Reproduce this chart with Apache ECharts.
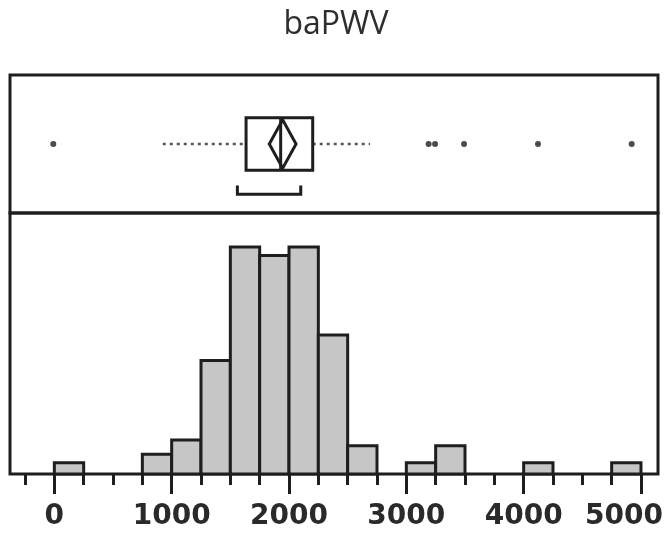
<!DOCTYPE html>
<html>
<head>
<meta charset="utf-8">
<script src="https://cdn.jsdelivr.net/npm/echarts@6/dist/echarts.min.js"></script>
<style>
  html, body { margin: 0; padding: 0; background: #fff; }
  #chart { width: 672px; height: 537px; }
</style>
</head>
<body>
<div id="chart"></div>
<script>
// histogram bins (start, end) and heights
var binStart = [0, 750, 1000, 1250, 1500, 1750, 2000, 2250, 2500, 3000, 3250, 4000, 4750];
var binEnd   = [250, 1000, 1250, 1500, 1750, 2000, 2250, 2500, 2750, 3250, 3500, 4250, 5000];
var binCount = [2, 3.5, 6, 20, 40, 38.5, 40, 24.5, 5, 2, 5, 2, 2];

// box plot: whisker low, q1, median, q3, whisker high
var boxStats = [924, 1634, 1929, 2202, 2690];
// mean diamond: lower, mean, upper
var meanDiamond = [1832, 1946, 2060];
// shortest half bracket
var shortestHalf = [1560, 2100];
var outliers = [-9, 3190, 3245, 3492, 4122, 4921];

var majorTicks = [0, 1000, 2000, 3000, 4000, 5000];
var minorTicks = [-250, 250, 500, 750, 1250, 1500, 1750, 2250, 2500, 2750, 3250, 3500, 3750, 4250, 4500, 4750];

var xMin = -378, xMax = 5145;
var ink = '#1e1e1e';

var histData = binStart.map(function(s, i) { return [s, binEnd[i], binCount[i]]; });

function renderBar(params, api) {
	var p0 = api.coord([api.value(0), api.value(2)]);
	var p1 = api.coord([api.value(1), 0]);
	return {
		type: 'rect',
		shape: { x: p0[0], y: p0[1], width: p1[0] - p0[0], height: p1[1] - p0[1] },
		style: { fill: '#c6c6c6', stroke: ink, lineWidth: 3 }
	};
}

function renderBox(params, api) {
	var lo = api.value(0), q1 = api.value(1), med = api.value(2), q3 = api.value(3), hi = api.value(4);
	var c = function(x, y) { return api.coord([x, y]); };
	var dash = { stroke: '#555', lineWidth: 2.5, lineDash: [3, 4] };
	var solid = { stroke: ink, lineWidth: 3, fill: null };
	var a = c(q1, 0.69), b = c(q3, 0.31);
	return {
		type: 'group',
		children: [
			{ type: 'line', shape: { x1: c(lo, 0.5)[0], y1: c(lo, 0.5)[1], x2: c(q1, 0.5)[0], y2: c(q1, 0.5)[1] }, style: dash },
			{ type: 'line', shape: { x1: c(q3, 0.5)[0], y1: c(q3, 0.5)[1], x2: c(hi, 0.5)[0], y2: c(hi, 0.5)[1] }, style: dash },
			{ type: 'rect', shape: { x: a[0], y: a[1], width: b[0] - a[0], height: b[1] - a[1] }, style: solid },
			{ type: 'line', shape: { x1: c(med, 0.69)[0], y1: c(med, 0.69)[1], x2: c(med, 0.31)[0], y2: c(med, 0.31)[1] }, style: solid },
			{ type: 'polygon', shape: { points: [
				c(meanDiamond[0], 0.5), c(meanDiamond[1], 0.675), c(meanDiamond[2], 0.5), c(meanDiamond[1], 0.325)
			] }, style: { stroke: ink, lineWidth: 3, fill: null } },
			{ type: 'polyline', shape: { points: [
				c(shortestHalf[0], 0.2), c(shortestHalf[0], 0.135), c(shortestHalf[1], 0.135), c(shortestHalf[1], 0.2)
			] }, style: { stroke: ink, lineWidth: 3, fill: null } }
		]
	};
}

var labelFont = { fontFamily: 'DejaVu Sans', fontSize: 28, fontWeight: 'bold', color: '#2a2a2a' };

var myChart = echarts.init(document.getElementById('chart'));
var option = {
	animation: false,
	title: {
		text: 'baPWV',
		left: 'center',
		top: 4,
		textStyle: { fontFamily: 'Open Sans', fontSize: 32, fontWeight: 'normal', color: '#2e2e2e' }
	},
	grid: [
		{ left: 10, right: 14, top: 75, height: 138, outerBoundsMode: 'none', containLabel: false, show: true, borderColor: ink, borderWidth: 3, backgroundColor: 'transparent' },
		{ left: 10, right: 14, top: 213, height: 261, outerBoundsMode: 'none', containLabel: false, show: true, borderColor: ink, borderWidth: 3, backgroundColor: 'transparent' }
	],
	xAxis: [
		{ type: 'value', gridIndex: 0, min: xMin, max: xMax, show: false, splitLine: { show: false } },
		{
			type: 'value', gridIndex: 1, min: xMin, max: xMax, position: 'bottom',
			splitLine: { show: false },
			axisLine: { show: false },
			axisTick: { show: true, customValues: majorTicks, length: 20, lineStyle: { color: ink, width: 3 } },
			axisLabel: Object.assign({
				customValues: majorTicks, margin: 29,
				formatter: function(v) {
					// last label is pushed left so it stays inside the picture
					return v === 5000 ? '{edge|' + v + '}' : String(v);
				},
				rich: { edge: Object.assign({ padding: [0, 34, 0, 0] }, labelFont) }
			}, labelFont)
		},
		{
			type: 'value', gridIndex: 1, min: xMin, max: xMax, position: 'bottom',
			splitLine: { show: false },
			axisLine: { show: false },
			axisTick: { show: true, customValues: minorTicks, length: 11, lineStyle: { color: ink, width: 3 } },
			axisLabel: { show: false }
		}
	],
	yAxis: [
		{ type: 'value', gridIndex: 0, min: 0, max: 1, show: false, splitLine: { show: false } },
		{ type: 'value', gridIndex: 1, min: 0, max: 46, show: false, splitLine: { show: false } }
	],
	series: [
		{
			type: 'custom', xAxisIndex: 1, yAxisIndex: 1,
			renderItem: renderBar,
			encode: { x: [0, 1], y: 2 },
			data: histData
		},
		{
			type: 'custom', xAxisIndex: 0, yAxisIndex: 0,
			renderItem: renderBox,
			encode: { x: [0, 1, 2, 3, 4] },
			data: [boxStats]
		},
		{
			type: 'scatter', xAxisIndex: 0, yAxisIndex: 0,
			symbolSize: 6,
			itemStyle: { color: ink },
			data: outliers.map(function(v) { return [v, 0.5]; })
		}
	]
};
myChart.setOption(option);
</script>
</body>
</html>
